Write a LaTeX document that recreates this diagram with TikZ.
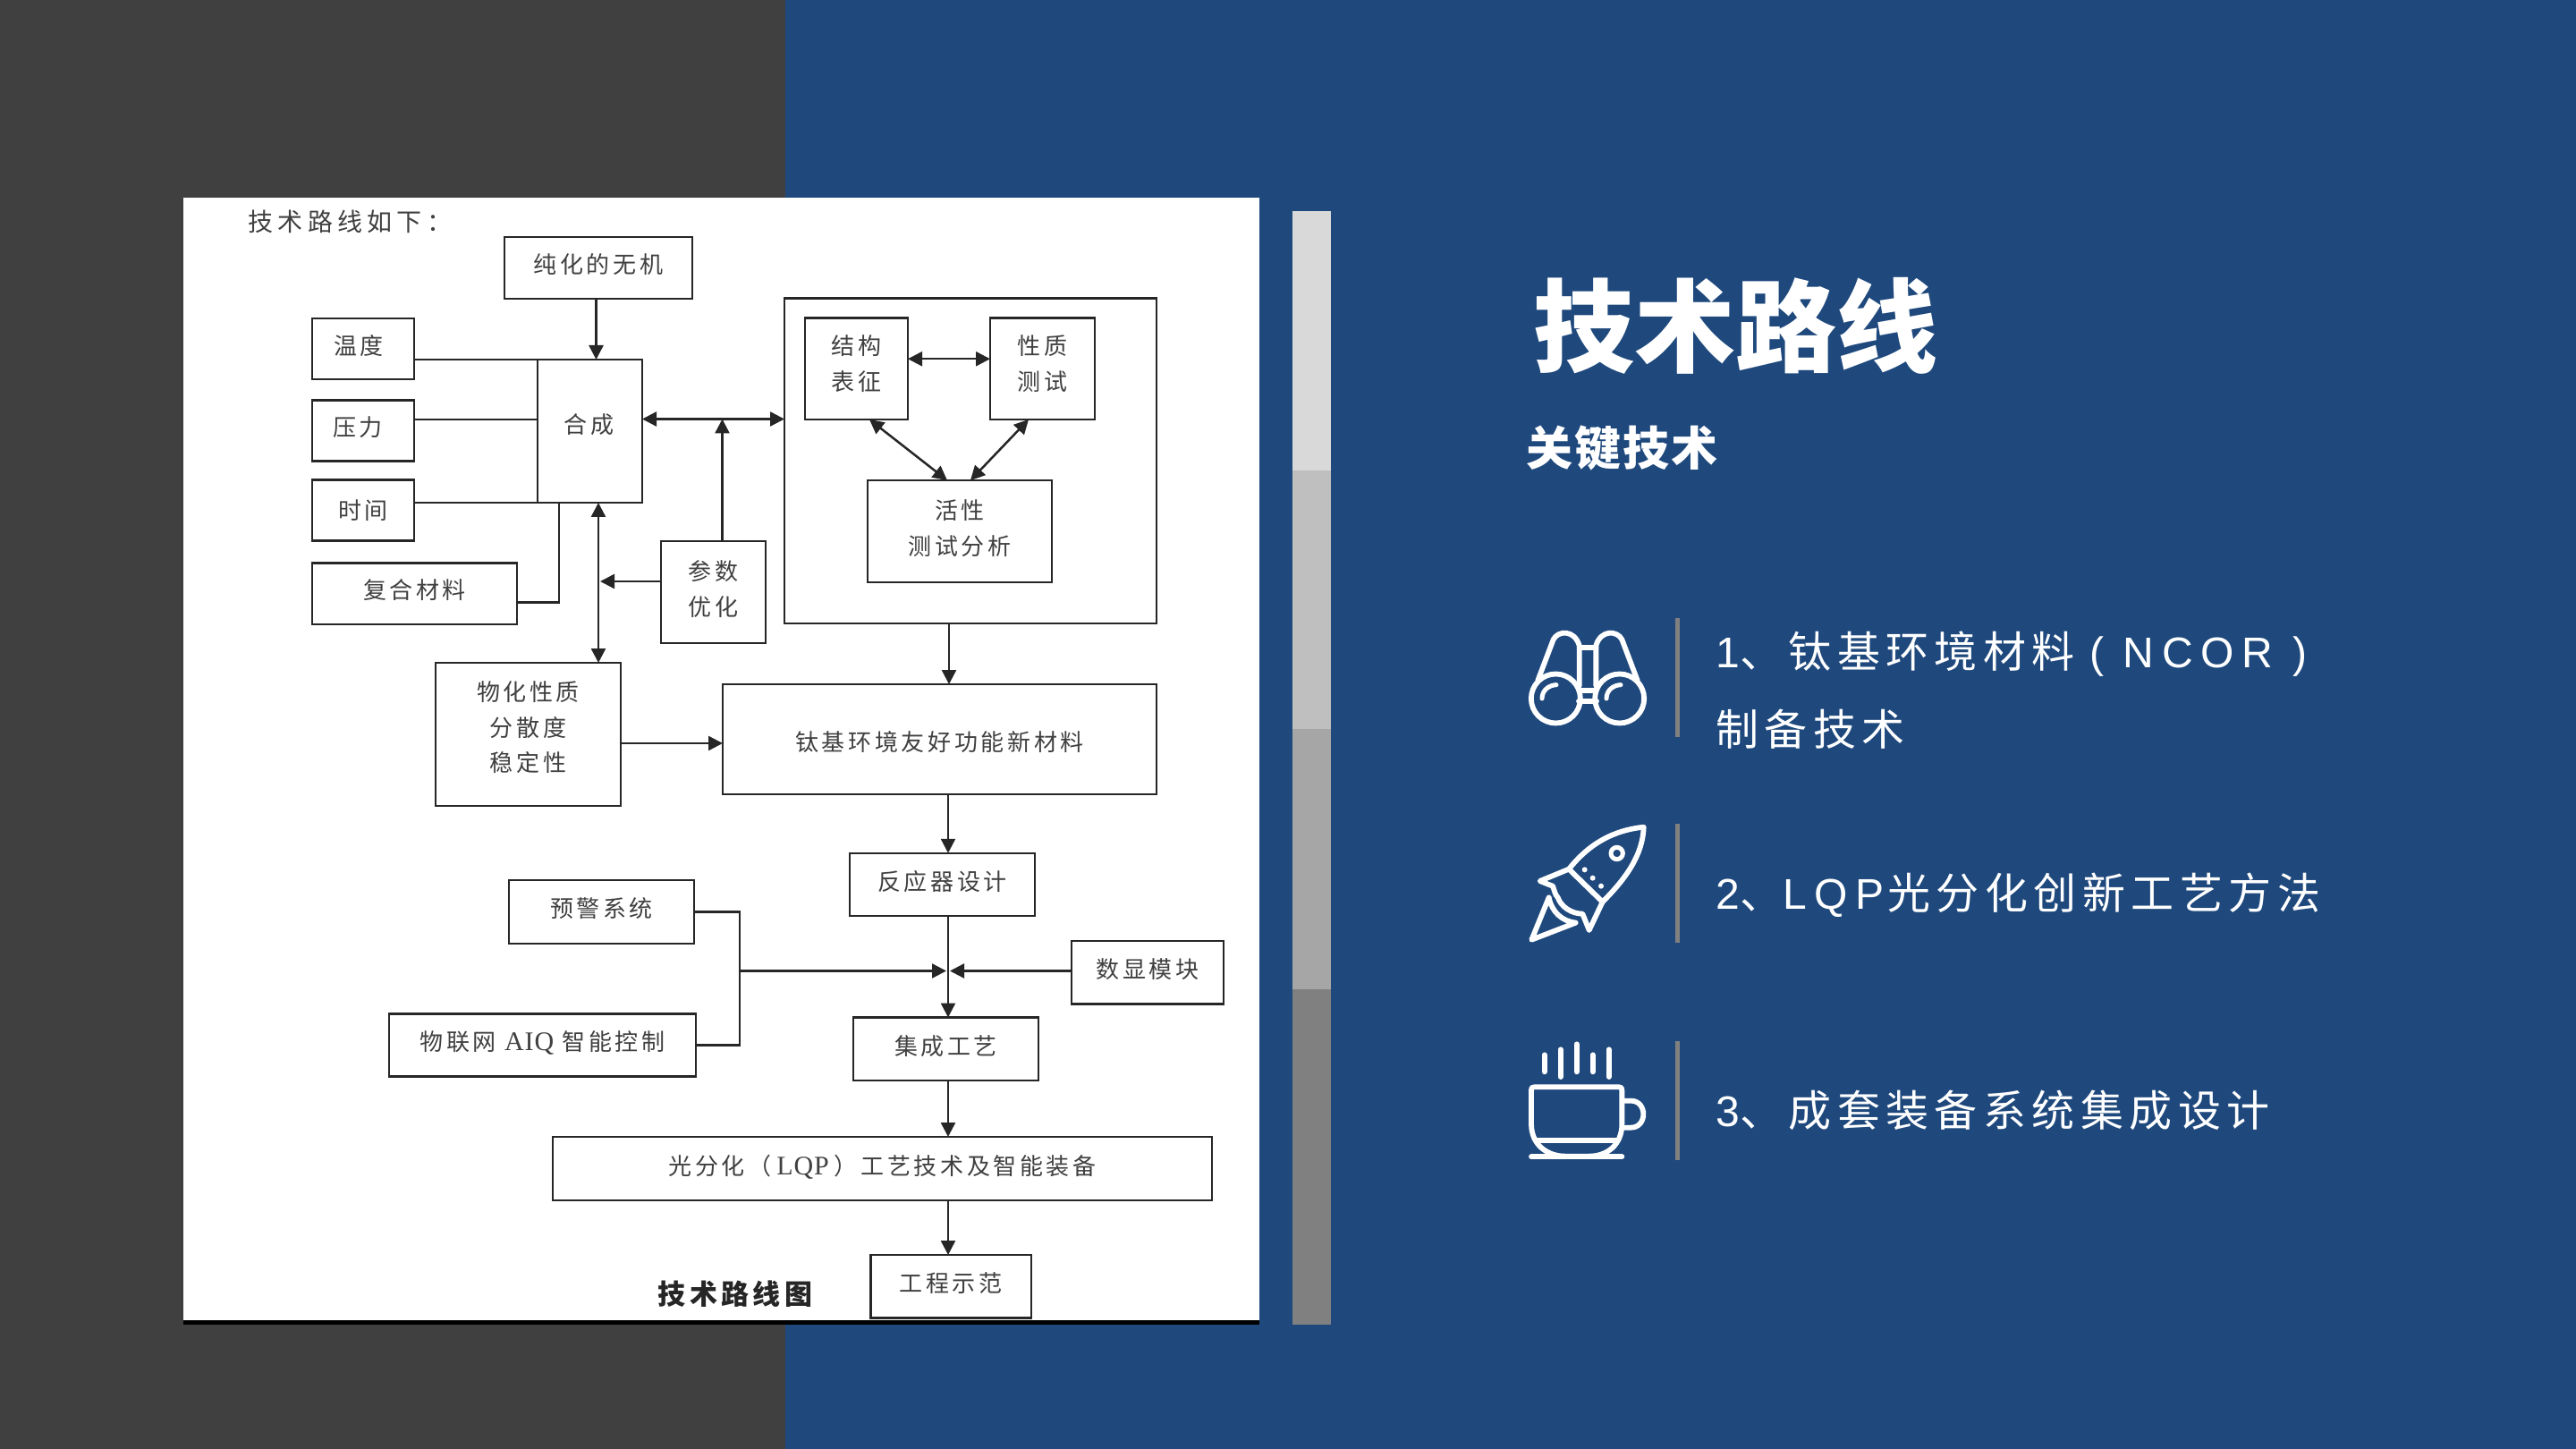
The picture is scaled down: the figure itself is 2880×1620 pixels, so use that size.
\documentclass[tikz,border=0pt]{standalone}
\usepackage{fontspec}
\setmainfont{Noto Sans CJK SC}
\newfontfamily\dgmfont[LetterSpace=14]{Noto Sans CJK SC}
\newfontfamily\headfont[LetterSpace=19]{Noto Sans CJK SC}
\newfontfamily\dgmlatin[LetterSpace=3]{Liberation Serif}
\newfontfamily\itemfont[LetterSpace=13.5]{Noto Sans CJK SC}
\newfontfamily\itemlatin[LetterSpace=18]{Liberation Sans}
\newfontfamily\leadfont[LetterSpace=4]{Noto Sans CJK SC}
\usetikzlibrary{arrows.meta,positioning}
\definecolor{DarkSide}{RGB}{64,64,64}
\definecolor{BlueSide}{RGB}{31,73,125}
\tikzstyle{Block} = [draw=black!85, rectangle, line width=1.25pt, outer sep=0pt, inner sep=0pt, align=center, text=black!75,
  text depth=4.6pt, font=\dgmfont\fontsize{13pt}{19.8pt}\selectfont]
\tikzstyle{Link} = [line width=1.25pt, draw=black!85, >={Triangle[length=8pt,width=8pt]}]
\tikzstyle{Item} = [anchor=west, inner sep=0pt, text=white, align=left, font=\itemfont\fontsize{24pt}{43.5pt}\selectfont]
\tikzstyle{Icon} = [draw=white, line width=2.9pt, line cap=round, line join=round]
\tikzstyle{Rule} = [fill=black!50]
\begin{document}
\begin{tikzpicture}[x=0.5pt,y=-0.5pt]
    \useasboundingbox (0,0) rectangle (2880,1620);
    % slide ground
    \fill[BlueSide] (0,0) rectangle (2880,1620);
    \fill[DarkSide] (0,0) rectangle (878,1620);
    \fill[white] (205,221) rectangle (1408,1476);
    \fill[black] (205,1476) rectangle (1408,1481);
    \fill[black!15] (1445,236) rectangle (1488,526);
    \fill[black!25] (1445,526) rectangle (1488,815);
    \fill[black!35] (1445,815) rectangle (1488,1106);
    \fill[black!50] (1445,1106) rectangle (1488,1481);
    % flow chart
    \node[anchor=west, inner sep=0pt, text=black!75, font=\headfont\fontsize{14pt}{16pt}\selectfont] (heading) at (277,248) {技术路线如下：};
    \node[Block, minimum width=105pt, minimum height=34.5pt] (purified) at (669,299.5) {纯化的无机};
    \node[Block, minimum width=57pt, minimum height=34pt] (temperature) at (406,390) {温度\hspace{5pt}};
    \node[Block, minimum width=57pt, minimum height=34pt] (pressure) [below=11.75pt of temperature] {压力\hspace{6pt}};
    \node[Block, minimum width=57pt, minimum height=34pt, text depth=1pt] (duration) [below=10.5pt of pressure] {时间};
    \node[Block, minimum width=114.5pt, minimum height=34.25pt] (composite) at (463.5,663.5) {复合材料};
    \node[Block, minimum width=58.5pt, minimum height=80pt, text depth=8.6pt] (synthesis) at (659.5,482) {合成\hspace{1pt}};
    \node[Block, minimum width=58.5pt, minimum height=57pt] (tuning) at (797.5,662) {参数\\优化};
    \node[Block, minimum width=103.5pt, minimum height=80pt, text depth=8.6pt] (physchem) at (590.5,821) {物化性质\\分散度\\稳定性};
    \node[draw=black!85, line width=1.25pt, outer sep=0pt, minimum width=208pt, minimum height=181.75pt] (testbox) at (1085,515.25) {};
    \node[Block, minimum width=57.5pt, minimum height=56.75pt, text depth=6.6pt] (structure) at (957.5,412.25) {结构\\表征};
    \node[Block, minimum width=58.5pt, minimum height=56.75pt, text depth=6.6pt] (property) at (1165.5,412.25) {性质\\测试};
    \node[Block, minimum width=103pt, minimum height=57pt] (activity) at (1073,594) {活性\\测试分析};
    \node[Block, minimum width=242.5pt, minimum height=61.5pt, text depth=1.6pt, text height=15pt] (material) at (1050.5,826.5) {钛基环境友好功能新材料};
    \node[Block, minimum width=103.5pt, minimum height=35pt] (reactor) at (1053.5,988.75) {反应器设计};
    \node[Block, minimum width=103.5pt, minimum height=35.5pt] (warning) at (672.5,1019.5) {预警系统};
    \node[Block, minimum width=171.5pt, minimum height=35pt] (iot) at (606.5,1168.5) {物联网\,{\dgmlatin\fontsize{15pt}{19pt}\selectfont\,AIQ\,}\,智能控制};
    \node[Block, minimum width=85pt, minimum height=35.25pt] (display) at (1283,1087.25) {数显模块};
    \node[Block, minimum width=103.5pt, minimum height=35.25pt] (integration) at (1057.5,1172.75) {集成工艺};
    \node[Block, minimum width=368.5pt, minimum height=35.5pt] (process) at (986.5,1306.5) {光分化（\hspace{3pt}{\dgmlatin\fontsize{15pt}{19pt}\selectfont LQP}\hspace{3pt}）工艺技术及智能装备};
    \node[Block, minimum width=89.75pt, minimum height=35.25pt] (demo) at (1063,1438.25) {工程示范};
    \node[inner sep=0pt, text=black!85, font=\dgmfont\bfseries\fontsize{15.5pt}{18pt}\selectfont] (caption) at (822,1447) {技术路线图};
    \coordinate (trunk) at (1060,1085.5);
    \coordinate (junction) at (827,1085.5);
    \coordinate (busright) at ([yshift=6.75pt]synthesis.east);
    \coordinate (busdown) at ([xshift=4.75pt]synthesis.south);
    \draw[Link,->] ([xshift=-1.25pt]purified.south) -- ([xshift=-1.25pt]purified.south |- synthesis.north);
    \draw[Link] (temperature.east |- synthesis.north west) -- (synthesis.north west);
    \draw[Link] ([yshift=6.25pt]pressure.east) -- ([yshift=6.25pt]pressure.east -| synthesis.west);
    \draw[Link] (duration.east |- synthesis.south west) -- (synthesis.south west);
    \draw[Link] ([yshift=-5pt]composite.east) -| ([xshift=-17.25pt]synthesis.south);
    \draw[Link,<->] (busright) -- (busright -| testbox.west);
    \draw[Link,<->] (busdown) -- (busdown |- physchem.north);
    \draw[Link,->] ([xshift=5pt]tuning.north) -- ([xshift=5pt]tuning.north |- busright);
    \draw[Link,->] ([yshift=6pt]tuning.west) -- ([yshift=6pt,xshift=1pt]tuning.west -| busdown);
    \draw[Link,->] ([yshift=-5pt]physchem.east) -- ([yshift=-5pt]physchem.east -| material.west);
    \draw[Link,<->] ([yshift=5.5pt]structure.east) -- ([yshift=5.5pt]property.west);
    \draw[Link,<->] ([xshift=7.25pt]structure.south) -- ([xshift=-7pt]activity.north);
    \draw[Link,<->] ([xshift=-7.75pt]property.south) -- ([xshift=6pt]activity.north);
    \draw[Link,->] ([xshift=-12pt]testbox.south) -- ([xshift=-12pt]testbox.south |- material.north);
    \draw[Link,->] (trunk |- material.south) -- (trunk |- reactor.north);
    \draw[Link,->] (trunk |- reactor.south) -- (trunk |- integration.north);
    \draw[Link,->] (trunk |- integration.south) -- (trunk |- process.north);
    \draw[Link,->] (trunk |- process.south) -- (trunk |- demo.north);
    \draw[Link] (warning.east) -| (junction);
    \draw[Link] (iot.east) -| (junction);
    \draw[Link,->] (junction) -- ([xshift=-1pt]trunk);
    \draw[Link,->] (display.west |- trunk) -- ([xshift=1pt]trunk);
    % right side text
    \node[inner sep=0pt, text=white, font=\bfseries\fontsize{56.5pt}{60pt}\selectfont] (title) at (1940,364.5) {技术路线};
    \node[anchor=west, inner sep=0pt, text=white, font=\leadfont\bfseries\fontsize{26pt}{30pt}\selectfont] (lead) at (1706,501.5) {关键技术};
    \node[Item] (item1) at (1918,772) {{\itemlatin 1}、钛基环境材料\hspace{8pt}{\itemlatin ( NCOR )}\\制备技术};
    \node[Item] (item2) at (1918,1001) {{\itemlatin 2}、{\itemlatin LQP}\hspace{2pt}光分化创新工艺方法};
    \node[Item] (item3) at (1918,1241.5) {{\itemlatin 3}、成套装备系统集成设计};
    \fill[Rule] (1873,691) rectangle (1878,824);
    \fill[Rule] (1873,921) rectangle (1878,1054);
    \fill[Rule] (1873,1164) rectangle (1878,1297);
    % binoculars
    \begin{scope}[shift={(1680,670)},scale=1/3]
      \draw[Icon] (178,333) circle (82.5);
      \draw[Icon] (392,333) circle (82.5);
      \draw[Icon] (118,272) -- (170,135) .. controls (185,105) and (240,100) .. (257,155) -- (257,290);
      \draw[Icon] (452,272) -- (400,135) .. controls (385,105) and (330,100) .. (313,155) -- (313,290);
      \draw[Icon] (257,162) -- (313,162);
      \draw[Icon] (257,306) -- (313,306);
      \draw[Icon] (255,341) -- (315,341);
      \draw[Icon,line width=2.5pt] (132,333) .. controls (132,305) and (155,288) .. (180,287);
      \draw[Icon,line width=2.5pt] (348,333) .. controls (348,305) and (371,288) .. (396,287);
    \end{scope}
    % rocket
    \begin{scope}[shift={(1680,900)},scale=1/3]
      \draw[Icon] (222,215) .. controls (290,130) and (370,85) .. (473,74) .. controls (470,170) and (410,250) .. (335,325) -- cycle;
      \draw[Icon] (222,215) -- (125,255) -- (168,272) .. controls (175,290) and (175,300) .. (185,310) .. controls (195,340) and (230,365) .. (268,365) -- (290,420) -- (335,325);
      \draw[Icon] (155,310) -- (97,452) -- (245,395) .. controls (200,390) and (165,360) .. (155,310);
      \draw[Icon,line width=2.5pt] (383,162) circle (20);
      \foreach \dotx/\doty in {275/217,302/245,330/272} {
        \fill[white] (\dotx,\doty) circle (9);
      }
    \end{scope}
    % cup
    \begin{scope}[shift={(1680,1140)},scale=1/3]
      \foreach \steamx/\steamtop/\steambot in {140/118/175,194/100/192,248/82/175,302/118/175,356/100/192} {
        \draw[Icon] (\steamx,\steamtop) -- (\steamx,\steambot);
      }
      \draw[Icon] (96,236) .. controls (96,228) and (98,226) .. (106,226) -- (390,226) .. controls (398,226) and (400,228) .. (400,236) -- (400,350) .. controls (400,420) and (350,458) .. (290,458) -- (210,458) .. controls (150,458) and (96,420) .. (96,350) -- cycle;
      \draw[Icon] (96,460) -- (400,460);
      \draw[Icon] (112,406) -- (384,406);
      \draw[Icon] (405,272) -- (430,272) .. controls (486,272) and (486,362) .. (430,362) -- (405,362);
    \end{scope}
  \end{tikzpicture}
\end{document}
